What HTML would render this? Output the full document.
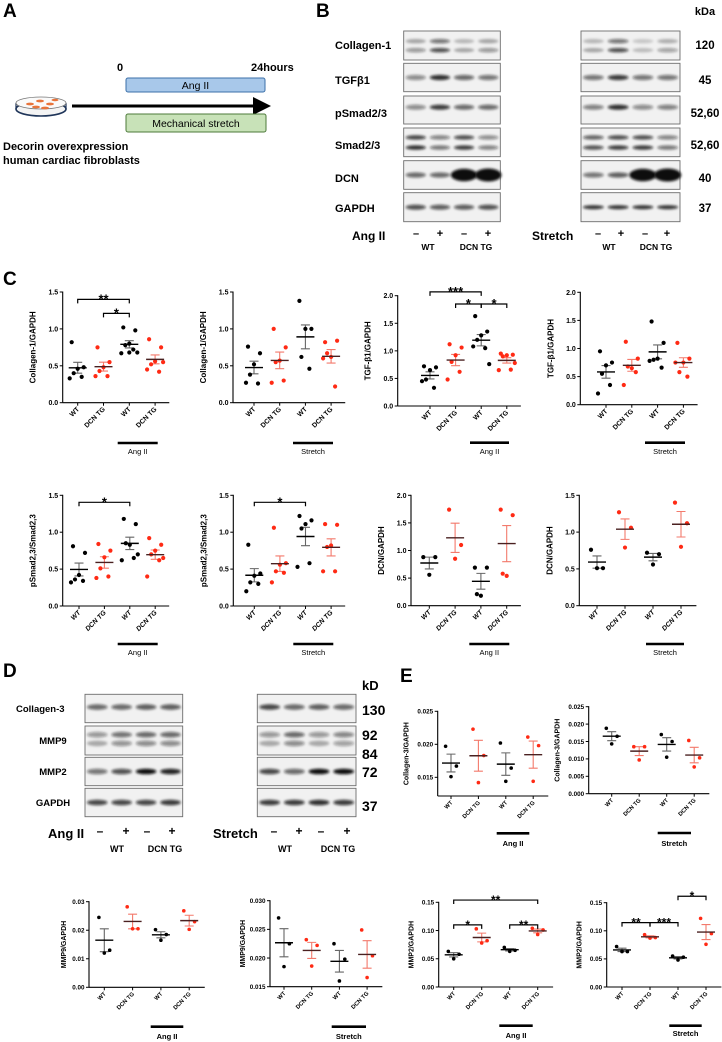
<!DOCTYPE html>
<html><head><meta charset="utf-8">
<style>
html,body{margin:0;padding:0;background:#fff;}
svg{display:block;font-family:"Liberation Sans",Arial,sans-serif;}
.b{font-weight:bold;}
</style></head>
<body>
<svg id="fig" width="722" height="1042" viewBox="0 0 722 1042" xmlns="http://www.w3.org/2000/svg">
<defs>
<filter id="blur" x="-50%" y="-100%" width="200%" height="300%"><feGaussianBlur stdDeviation="1.2"/></filter>
<marker id="arrowhead" markerWidth="6" markerHeight="6" refX="3" refY="3" orient="auto"><path d="M0,0 L6,3 L0,6 z" fill="#000"/></marker>
</defs>
<text x="3" y="17" font-size="19" class="b">A</text>
<text x="316" y="17" font-size="19" class="b">B</text>
<text x="3" y="285" font-size="19" class="b">C</text>
<text x="3" y="677" font-size="19" class="b">D</text>
<text x="400" y="682" font-size="19" class="b">E</text>

<g>
<text x="117" y="71" font-size="11" class="b">0</text>
<text x="251" y="71" font-size="11" class="b">24hours</text>
<rect x="126" y="78" width="139" height="14" fill="#a8c8ea" stroke="#3b6fa8" stroke-width="1" rx="2"/>
<text x="195.5" y="89" font-size="10.5" text-anchor="middle">Ang II</text>
<line x1="72" y1="106" x2="262" y2="106" stroke="#000" stroke-width="3" marker-end="url(#arrowhead)"/>
<rect x="126" y="114" width="140" height="18" fill="#c8e2b8" stroke="#4d7a3a" stroke-width="1" rx="2"/>
<text x="196" y="127" font-size="10.5" text-anchor="middle">Mechanical stretch</text>
<g>
<ellipse cx="41" cy="109" rx="25" ry="7" fill="#f4f4f4" stroke="#1f3559" stroke-width="1.6"/>
<path d="M16,103 L16,109 M66,103 L66,109" stroke="#1f3559" stroke-width="1.2"/>
<ellipse cx="41" cy="103" rx="25" ry="6" fill="#fafafa" stroke="#777" stroke-width="0.8"/>
<ellipse cx="30" cy="104" rx="4" ry="1.4" fill="#e8743b"/>
<ellipse cx="40" cy="101" rx="4" ry="1.4" fill="#e8743b"/>
<ellipse cx="50" cy="104" rx="4" ry="1.4" fill="#e8743b"/>
<ellipse cx="36" cy="107" rx="4" ry="1.4" fill="#e8743b"/>
<ellipse cx="55" cy="100" rx="3.5" ry="1.3" fill="#e8743b"/>
<ellipse cx="45" cy="108" rx="4" ry="1.4" fill="#e8743b"/>
</g>
<text x="3" y="150" font-size="11" class="b">Decorin overexpression</text>
<text x="3" y="164" font-size="11" class="b">human cardiac fibroblasts</text>
</g>
<g id="blots"></g>
<g id="charts"></g>
</svg>
<script>
// ===== Chart data =====
const catLabels = ["WT","DCN TG","WT","DCN TG"];
const col1AngWT=[0.82,0.48,0.46,0.40,0.35,0.33], col1AngTG=[0.75,0.55,0.48,0.43,0.36,0.36], col1AngWTA=[1.02,0.98,0.80,0.78,0.72,0.67,0.68,0.68], col1AngTGA=[0.86,0.75,0.56,0.52,0.42,0.45,0.55];
const col1StWT=[0.76,0.67,0.52,0.38,0.26,0.27], col1StTG=[1.0,0.75,0.57,0.55,0.30,0.27], col1StWTS=[1.38,1.0,1.0,0.62,0.46], col1StTGS=[0.82,0.84,0.62,0.67,0.22,0.60];
const tgfAngWT=[0.72,0.70,0.65,0.48,0.33,0.45], tgfAngTG=[1.12,1.06,0.92,0.80,0.62,0.48], tgfAngWTA=[1.63,1.35,1.28,1.20,1.05,1.08,0.76], tgfAngTGA=[0.95,0.93,0.92,0.90,0.66,0.65,0.78];
const tgfStWT=[0.95,0.75,0.70,0.55,0.35,0.20], tgfStTG=[1.12,0.82,0.65,0.68,0.58,0.35], tgfStWTS=[1.48,1.10,0.82,0.80,0.66,0.78], tgfStTGS=[1.10,0.82,0.75,0.58,0.50,0.75];
const psAngWT=[0.81,0.72,0.42,0.36,0.34,0.32], psAngTG=[0.84,0.75,0.66,0.51,0.40,0.38], psAngWTA=[1.18,1.11,0.83,0.85,0.65,0.62,0.70], psAngTGA=[0.92,0.83,0.75,0.70,0.62,0.40,0.65];
const psStWT=[0.83,0.44,0.41,0.32,0.30,0.20], psStTG=[1.06,0.58,0.56,0.47,0.45,0.32], psStWTS=[1.22,1.16,1.11,1.05,0.58,0.53], psStTGS=[1.11,1.10,0.82,0.80,0.47,0.47];
const dcnAngWT=[0.88,0.88,0.56], dcnAngTG=[1.74,1.10,0.85], dcnAngWTA=[0.69,0.69,0.18,0.21], dcnAngTGA=[1.74,1.64,0.54,0.58];
const dcnStWT=[0.76,0.51,0.51], dcnStTG=[1.27,1.06,0.79], dcnStWTS=[0.72,0.70,0.56], dcnStTGS=[1.40,1.12,0.80];
const col3AngWT=[0.0197,0.0167,0.0151], col3AngTG=[0.0223,0.0183,0.0142], col3AngWTA=[0.0202,0.0164,0.0144], col3AngTGA=[0.0211,0.0198,0.0144];
const col3StWT=[0.0188,0.0165,0.0143], col3StTG=[0.0135,0.0135,0.0097], col3StWTS=[0.0170,0.0150,0.0105], col3StTGS=[0.0153,0.0103,0.0077];
const mmp9AngWT=[0.0245,0.0130,0.0120], mmp9AngTG=[0.0282,0.0205,0.0205], mmp9AngWTA=[0.0202,0.0185,0.0165], mmp9AngTGA=[0.0268,0.0230,0.0203];
const mmp9StWT=[0.0270,0.0225,0.0185], mmp9StTG=[0.0232,0.0222,0.0186], mmp9StWTS=[0.0225,0.0198,0.0160], mmp9StTGS=[0.0249,0.0204,0.0166];
const mmp2AngWT=[0.063,0.058,0.050], mmp2AngTG=[0.103,0.082,0.078], mmp2AngWTA=[0.070,0.065,0.063], mmp2AngTGA=[0.104,0.101,0.093];
const mmp2StWT=[0.072,0.063,0.063], mmp2StTG=[0.093,0.088,0.087], mmp2StWTS=[0.055,0.053,0.048], mmp2StTGS=[0.122,0.095,0.076];
const ticks15=[0,0.5,1.0,1.5], ticks15Labels=["0.0","0.5","1.0","1.5"];
const ticks20=[0,0.5,1.0,1.5,2.0], ticks20Labels=["0.0","0.5","1.0","1.5","2.0"];
const ticksCol3A=[0.015,0.020,0.025], ticksCol3ALabels=["0.015","0.020","0.025"];
const ticksCol3S=[0,0.005,0.010,0.015,0.020,0.025], ticksCol3SLabels=["0.000","0.005","0.010","0.015","0.020","0.025"];
const ticksMmp9A=[0,0.01,0.02,0.03], ticksMmp9ALabels=["0.00","0.01","0.02","0.03"];
const ticksMmp9S=[0.015,0.020,0.025,0.030], ticksMmp9SLabels=["0.015","0.020","0.025","0.030"];
const ticksMmp2=[0,0.05,0.10,0.15], ticksMmp2Labels=["0.00","0.05","0.10","0.15"];
const sigCol1Ang=[[0,2,1.40,"**"],[1,2,1.21,"*"]];
const sigTgfAng=[[0,2,2.07,"***"],[1,2,1.85,"*"],[2,3,1.85,"*"]];
const sigPsAng=[[0,2,1.405,"*"]];
const sigPsSt=[[0,2,1.405,"*"]];
const sigMmp2Ang=[[0,3,0.154,"**"],[0,1,0.110,"*"],[2,3,0.110,"**"]];
const sigMmp2St=[[0,1,0.1145,"**"],[1,2,0.1145,"***"],[2,3,0.1615,"*"]];

const NS="http://www.w3.org/2000/svg";
const root=document.getElementById('charts');
function mk(tag,attrs,parent){const e=document.createElementNS(NS,tag);for(const k in attrs)e.setAttribute(k,attrs[k]);parent.appendChild(e);return e;}
const jit=[-6,6,0,-4,4,-8,8,0];
function meanSem(v){const n=v.length;const m=v.reduce((a,b)=>a+b,0)/n;const sd=Math.sqrt(v.reduce((a,b)=>a+(b-m)*(b-m),0)/(n-1));return [m,sd/Math.sqrt(n)];}

function drawChart(id,L,groups,ticks,tickLabels,title,groupLabel,sigs){
  const g=mk('g',{},root);
  
  
  const y=v=>L.yB-(v-L.dom[0])/(L.dom[1]-L.dom[0])*(L.yB-L.yT);
  const x=i=>L.c0+i*L.step;
  const fs=L.fs, R=L.r, J=L.j;
  const ya=mk('line',{x1:L.ax,y1:L.yT-0.5,x2:L.ax,y2:L.yB,stroke:'#000','stroke-width':1.1},g);
  
  
  ticks.forEach((t,k)=>{
    const tl=mk('line',{x1:L.ax-3,y1:y(t),x2:L.ax,y2:y(t),stroke:'#000','stroke-width':1},g);
    
    
    const tx=mk('text',{x:L.ax-4.5,y:y(t)+fs*0.36,'font-size':fs,'font-weight':'bold','text-anchor':'end'},g);
    tx.textContent=tickLabels[k];
    
    
  });
  const xEnd=x(3)+L.step*0.55;
  const xa=mk('line',{x1:L.ax,y1:L.yB,x2:xEnd,y2:L.yB,stroke:'#000','stroke-width':1.1},g);
  
  
  for(let i=0;i<4;i++){
    const tl=mk('line',{x1:x(i),y1:L.yB,x2:x(i),y2:L.yB+3,stroke:'#000','stroke-width':1},g);
    
    
    const lx=x(i)+2, ly=L.yB+7;
    const tx=mk('text',{x:lx,y:ly,'font-size':L.cfs,'font-weight':'bold','text-anchor':'end',transform:`rotate(-45 ${lx} ${ly})`,'font-style':L.it?'italic':'normal'},g);
    tx.textContent=catLabels[i];
    
    
  }
  const tx=L.ax-L.td, ty=(L.yT+L.yB)/2;
  const tt=mk('text',{x:tx,y:ty,'font-size':L.tfs,'font-weight':'bold','text-anchor':'middle',transform:`rotate(-90 ${tx} ${ty})`},g);
  tt.textContent=title;
  
  
  groups.forEach((vals,gi)=>{
    const red=gi%2===1;
    const dot=red?'#ff2a14':'#000';
    const err=red?'#f37a6c':'#666';
    const [m,s]=meanSem(vals);
    const cx=x(gi);
    const gg=mk('g',{},g);
    
    
    const eb=mk('path',{d:`M${cx},${y(m-s)}V${y(m+s)}M${cx-L.cap},${y(m-s)}H${cx+L.cap}M${cx-L.cap},${y(m+s)}H${cx+L.cap}`,stroke:err,'stroke-width':1.1,fill:'none'},gg);
    
    
    vals.forEach((v,k)=>{
      const c=mk('circle',{cx:cx+jit[k%jit.length]*J,cy:y(v),r:R,fill:dot},gg);
      
      
    });
    const ml=mk('line',{x1:cx-L.mw,y1:y(m),x2:cx+L.mw,y2:y(m),stroke:red?'#4a2020':'#000','stroke-width':1.4},gg);
    
    
  });
  const gb=mk('line',{x1:L.gb[0],y1:L.gbY,x2:L.gb[1],y2:L.gbY,stroke:'#000','stroke-width':2.6},g);
  
  
  const gl=mk('text',{x:(L.gb[0]+L.gb[1])/2,y:L.glY,'font-size':L.gfs,'font-weight':L.gw,'text-anchor':'middle'},g);
  gl.textContent=groupLabel;
  
  
  sigs.forEach(sg=>{
    const yy=y(sg[2]);
    const p=mk('path',{d:`M${x(sg[0])},${yy+4}V${yy}H${x(sg[1])}V${yy+4}`,stroke:'#000','stroke-width':1.2,fill:'none'},g);
    
    
    const st=mk('text',{x:(x(sg[0])+x(sg[1]))/2,y:yy+4,'font-size':L.sfs,'font-weight':'bold','text-anchor':'middle'},g);
    st.textContent=sg[3];
    
    
  });
}
const C={fs:7,cfs:6.8,tfs:8,gfs:7.5,gw:'normal',sfs:13,r:2.1,j:1,cap:4.5,mw:9,td:27,it:false};
const E={fs:6.3,cfs:5.8,tfs:7,gfs:7.5,gw:'bold',sfs:12,r:1.8,j:0.9,cap:4.5,mw:9,td:28,it:false};
function L(base,o){return Object.assign({},base,o);}

drawChart('chart-collagen1-angii',L(C,{ax:62.7,yT:292,yB:402.7,dom:[0,1.5],c0:77.7,step:25.8,gb:[117.7,157.7],gbY:443,glY:454}),[col1AngWT,col1AngTG,col1AngWTA,col1AngTGA],ticks15,ticks15Labels,'Collagen-1/GAPDH','Ang II',sigCol1Ang);
drawChart('chart-collagen1-stretch',L(C,{ax:233,yT:292,yB:402.7,dom:[0,1.5],c0:254,step:25.7,gb:[293,333],gbY:443,glY:454}),[col1StWT,col1StTG,col1StWTS,col1StTGS],ticks15,ticks15Labels,'Collagen-1/GAPDH','Stretch',[]);
drawChart('chart-tgfb1-angii',L(C,{ax:397.7,yT:295.7,yB:406,dom:[0,2],c0:430,step:25.6,gb:[470,509],gbY:442.7,glY:454}),[tgfAngWT,tgfAngTG,tgfAngWTA,tgfAngTGA],ticks20,ticks20Labels,'TGF-β1/GAPDH','Ang II',sigTgfAng);
drawChart('chart-tgfb1-stretch',L(C,{ax:580.3,yT:292.3,yB:404.7,dom:[0,2],c0:606,step:25.8,gb:[645,685],gbY:442.7,glY:454}),[tgfStWT,tgfStTG,tgfStWTS,tgfStTGS],ticks20,ticks20Labels,'TGF-β1/GAPDH','Stretch',[]);
drawChart('chart-psmad-angii',L(C,{ax:62.7,yT:495.3,yB:606,dom:[0,1.5],c0:79,step:25.4,gb:[117.7,157.7],gbY:644,glY:655,it:true}),[psAngWT,psAngTG,psAngWTA,psAngTGA],ticks15,ticks15Labels,'pSmad2,3/Smad2,3','Ang II',sigPsAng);
drawChart('chart-psmad-stretch',L(C,{ax:233.3,yT:495.3,yB:606,dom:[0,1.5],c0:254.3,step:25.6,gb:[293.3,333.3],gbY:644,glY:655,it:true}),[psStWT,psStTG,psStWTS,psStTGS],ticks15,ticks15Labels,'pSmad2,3/Smad2,3','Stretch',sigPsSt);
drawChart('chart-dcn-angii',L(C,{ax:411,yT:495.3,yB:605.7,dom:[0,2],c0:429.3,step:25.8,gb:[469.3,509.3],gbY:644,glY:655,it:true}),[dcnAngWT,dcnAngTG,dcnAngWTA,dcnAngTGA],ticks20,ticks20Labels,'DCN/GAPDH','Ang II',[]);
drawChart('chart-dcn-stretch',L(C,{ax:579.3,yT:495.3,yB:605.7,dom:[0,1.5],c0:597,step:28,gb:[646,684],gbY:644,glY:655,it:true}),[dcnStWT,dcnStTG,dcnStWTS,dcnStTGS],ticks15,ticks15Labels,'DCN/GAPDH','Stretch',[]);
drawChart('chart-collagen3-angii',L(E,{ax:437.7,yT:711.3,yB:796,dom:[0.01217,0.025],c0:451,step:27.4,gb:[496.7,529.3],gbY:833.3,glY:846,td:29}),[col3AngWT,col3AngTG,col3AngWTA,col3AngTGA],ticksCol3A,ticksCol3ALabels,'Collagen-3/GAPDH','Ang II',[]);
drawChart('chart-collagen3-stretch',L(E,{ax:588.7,yT:706.7,yB:793.7,dom:[0,0.025],c0:611.7,step:27.5,gb:[657.7,691],gbY:833,glY:846,td:29}),[col3StWT,col3StTG,col3StWTS,col3StTGS],ticksCol3S,ticksCol3SLabels,'Collagen-3/GAPDH','Stretch',[]);
drawChart('chart-mmp9-angii',L(E,{ax:89,yT:901.7,yB:987.3,dom:[0,0.03],c0:104.3,step:28.3,gb:[150.7,183.3],gbY:1026.7,glY:1039,td:23}),[mmp9AngWT,mmp9AngTG,mmp9AngWTA,mmp9AngTGA],ticksMmp9A,ticksMmp9ALabels,'MMP9/GAPDH','Ang II',[]);
drawChart('chart-mmp9-stretch',L(E,{ax:270,yT:900.7,yB:986.7,dom:[0.015,0.03],c0:284,step:27.7,gb:[331.7,366],gbY:1026.7,glY:1039,td:25}),[mmp9StWT,mmp9StTG,mmp9StWTS,mmp9StTGS],ticksMmp9S,ticksMmp9SLabels,'MMP9/GAPDH','Stretch',[]);
drawChart('chart-mmp2-angii',L(E,{ax:438.7,yT:902.3,yB:987,dom:[0,0.15],c0:453.7,step:28,gb:[499.3,532.7],gbY:1025.7,glY:1038,td:25}),[mmp2AngWT,mmp2AngTG,mmp2AngWTA,mmp2AngTGA],ticksMmp2,ticksMmp2Labels,'MMP2/GAPDH','Ang II',sigMmp2Ang);
drawChart('chart-mmp2-stretch',L(E,{ax:606.7,yT:902.7,yB:987,dom:[0,0.15],c0:622,step:28,gb:[669.3,701.7],gbY:1025.7,glY:1036,td:25}),[mmp2StWT,mmp2StTG,mmp2StWTS,mmp2StTGS],ticksMmp2,ticksMmp2Labels,'MMP2/GAPDH','Stretch',sigMmp2St);

// ===== Western blots =====
const broot=document.getElementById('blots');
function blot(name,x0,y0,w,h,ints,bands,ry,rxf){
  const g=mk('g',{},broot);
  
  
  mk('rect',{x:x0,y:y0,width:w,height:h,fill:'#f1f1f1',stroke:'#6d6d6d','stroke-width':0.9},g);
  const lw=w/4;
  ints.forEach((it,i)=>{
    bands.forEach(b=>{
      const f=rxf?rxf[i]:1;
      mk('ellipse',{cx:x0+lw*(i+0.5),cy:y0+h*b[0],rx:Math.min(lw*0.42*f,lw*0.55),ry:ry*f,fill:'#111','fill-opacity':Math.min(1,it*b[1]),filter:'url(#blur)'},g);
    });
  });
}
function lbl(s,x,y,fs,anchor,name){
  const t=mk('text',{x:x,y:y,'font-size':fs,'font-weight':'bold','text-anchor':anchor||'start'},broot);
  t.textContent=s;
  
  
}
const rowsB=[["Collagen-1",31,29,[[0.35,0.7],[0.66,0.9]],"120",45],["TGFβ1",63.3,28.4,[[0.5,1]],"45",80],["pSmad2/3",96,28,[[0.4,1]],"52,60",113],["Smad2/3",128,28.7,[[0.33,0.9],[0.68,1]],"52,60",145],["DCN",160.7,28.6,[[0.5,1]],"40",178],["GAPDH",192.7,29,[[0.5,1]],"37",208]];
const intsL=[[0.45,0.8,0.35,0.45],[0.45,0.85,0.6,0.55],[0.45,0.8,0.6,0.6],[0.85,0.55,0.8,0.5],[0.6,0.6,1,1],[0.7,0.65,0.65,0.7]];
const intsR=[[0.35,0.8,0.25,0.4],[0.55,0.8,0.55,0.55],[0.5,0.85,0.45,0.5],[0.7,0.8,0.8,0.55],[0.55,0.65,1,1],[0.85,0.85,0.85,0.85]];
rowsB.forEach((r,k)=>{
  const big=(k===4)?[1,1,2.4,2.5]:null;
  const ry=(k===0||k===3)?2.2:2.6;
  blot('blot-left-'+r[0].toLowerCase(),403.7,r[1],96.6,r[2],intsL[k],r[3],ry,big);
  blot('blot-right-'+r[0].toLowerCase(),581,r[1],99,r[2],intsR[k],r[3],k===5?2:ry,big);
  lbl(r[0],335,r[5]+4,11,'start','blot-label-'+k);
  lbl(r[4],705,r[5]+4,11.5,'middle','kda-value-'+k);
});
lbl('kDa',705,15,11,'middle','kda-header');
lbl('Ang II',352,240,12,'start','angii-row-label');
[416,440,464,488].forEach((x,i)=>lbl(i%2?'+':'–',x,237,11,'middle','angii-sign-'+i));
lbl('WT',428,250,8.5,'middle','wt-label-b-left');
lbl('DCN TG',476,250,8.5,'middle','dcntg-label-b-left');
lbl('Stretch',532,240,12,'start','stretch-row-label');
[598,621,645,667].forEach((x,i)=>lbl(i%2?'+':'–',x,237,11,'middle','stretch-sign-'+i));
lbl('WT',609,250,8.5,'middle','wt-label-b-right');
lbl('DCN TG',656,250,8.5,'middle','dcntg-label-b-right');

const rowsD=[["Collagen-3",694.3,28.4,[[0.45,1]],16],["MMP9",726,29,[[0.3,0.8],[0.6,0.6]],53],["MMP2",757.3,28.4,[[0.5,1]],53],["GAPDH",788.3,28.4,[[0.5,1]],53]];
const intsDL=[[0.6,0.6,0.65,0.65],[0.5,0.7,0.75,0.75],[0.55,0.7,1,0.9],[0.75,0.75,0.75,0.8]];
const intsDR=[[0.75,0.6,0.65,0.6],[0.5,0.75,0.5,0.6],[0.75,0.6,1,1],[0.8,0.8,0.85,0.8]];
rowsD.forEach((r,k)=>{
  blot('blot-d-left-'+r[0].toLowerCase(),85,r[1],97.7,r[2],intsDL[k],r[3],2.8);
  blot('blot-d-right-'+r[0].toLowerCase(),257.3,r[1],98.7,r[2],intsDR[k],r[3],2.8);
  lbl(r[0],r[4],r[1]+r[2]/2+3.5,9.5,k===0?'start':'middle','blot-d-label-'+k);
});
lbl('kD',362,690,13,'start','kd-header');
lbl('130',362,715,14,'start','kd-130');
lbl('92',362,740,14,'start','kd-92');
lbl('84',362,759,14,'start','kd-84');
lbl('72',362,777,14,'start','kd-72');
lbl('37',362,811,14,'start','kd-37');
lbl('Ang II',48,838,13,'start','angii-row-label-d');
[100,126,147,172].forEach((x,i)=>lbl(i%2?'+':'–',x,835,12,'middle','angii-sign-d-'+i));
lbl('WT',117,852,9,'middle','wt-label-d-left');
lbl('DCN TG',165,852,9,'middle','dcntg-label-d-left');
lbl('Stretch',213,838,13,'start','stretch-row-label-d');
[274,299,321,347].forEach((x,i)=>lbl(i%2?'+':'–',x,835,12,'middle','stretch-sign-d-'+i));
lbl('WT',285,852,9,'middle','wt-label-d-right');
lbl('DCN TG',338,852,9,'middle','dcntg-label-d-right');
</script>
</body></html>
